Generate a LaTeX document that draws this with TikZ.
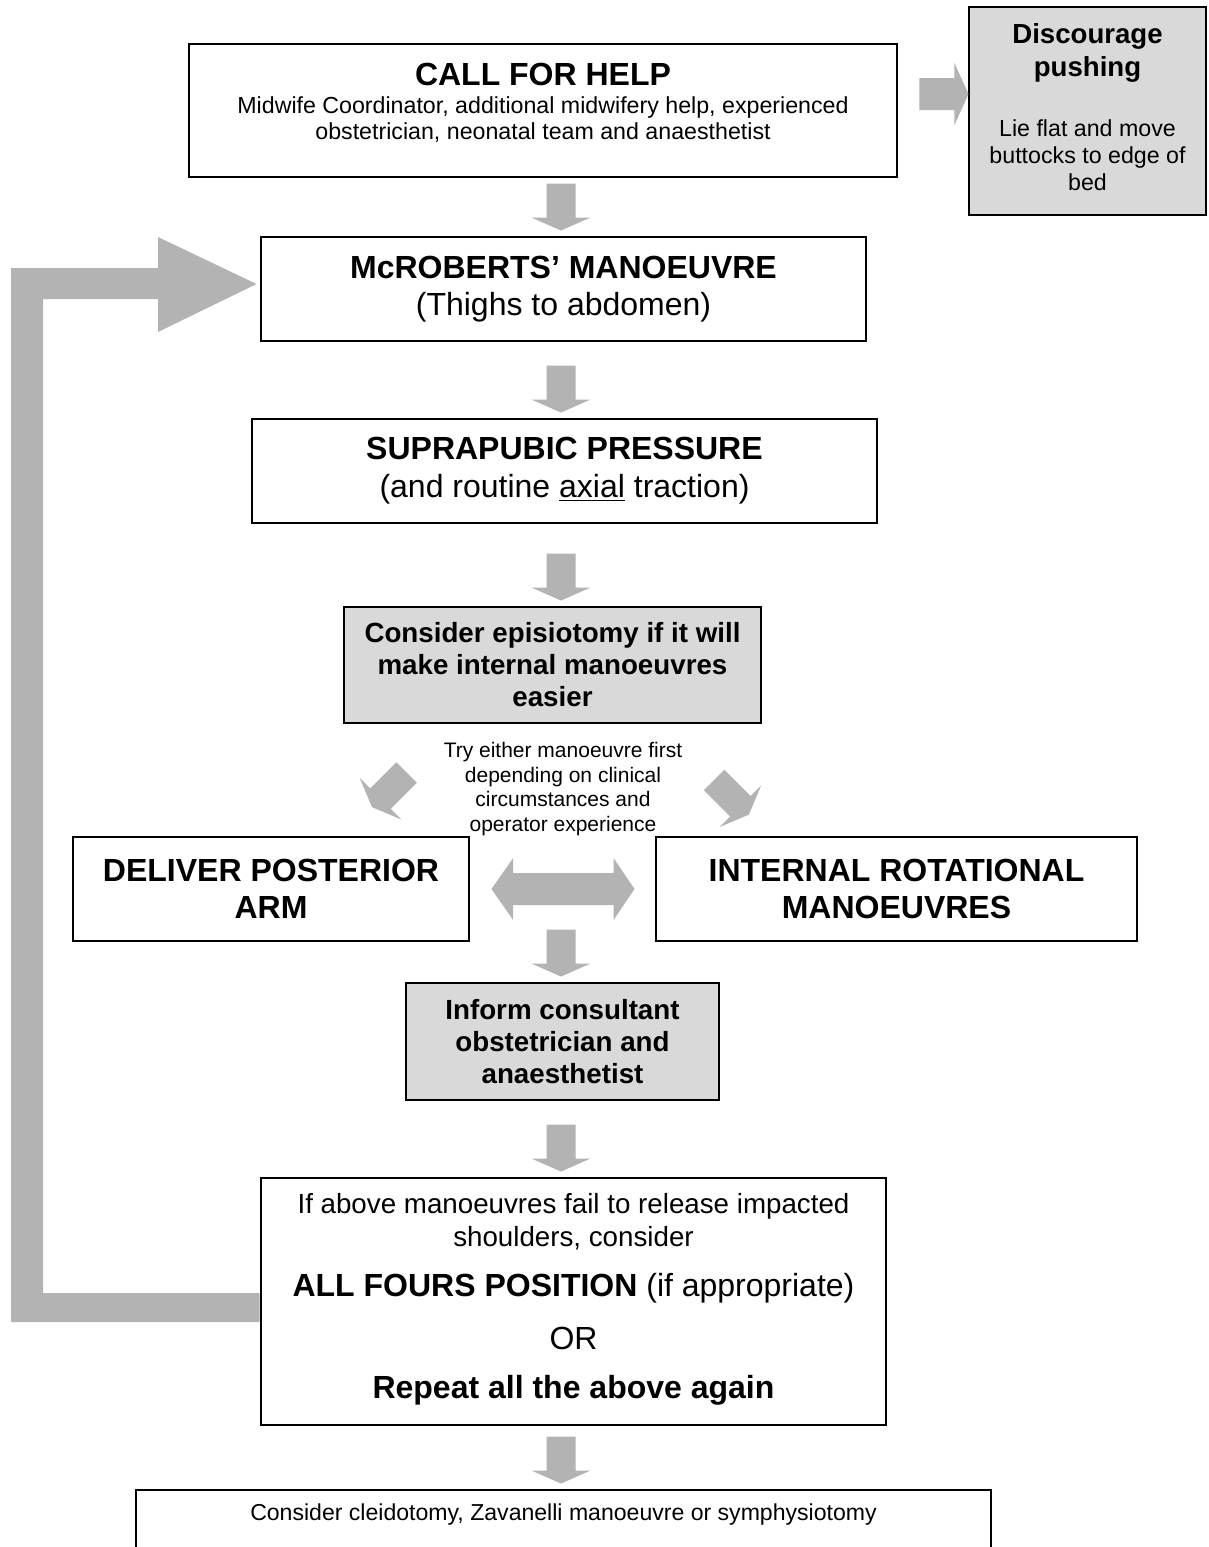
\documentclass[tikz,border=0pt]{standalone}
\usepackage{fontspec}
\setmainfont{Liberation Sans}
\usetikzlibrary{calc}
\definecolor{arrowgray}{HTML}{B3B3B3}
\definecolor{boxgray}{HTML}{D9D9D9}
\newcommand\pxu{0.75pt}
\newcommand\fs[2]{\fontsize{#1}{#2}\selectfont}
\begin{document}
\begin{tikzpicture}[x=0.75pt,y=-0.75pt,
  box/.style={draw=black, line width=2.2pt, inner sep=0pt, align=center},
  graybox/.style={box, fill=boxgray},
  txt/.style={inner sep=0pt, align=center},
  pics/barr/.style n args={4}{code={\fill[arrowgray] (-#3,0) -- (#3,0) -- (#3,#1-#2) -- (#4,#1-#2) -- (0,#1) -- (-#4,#1-#2) -- (-#3,#1-#2) -- cycle;}}
]
\useasboundingbox (0,0) rectangle (1208,1547);
\fill[white] (0,0) rectangle (1208,1547);

% boxes
\node[box, minimum width=708*\pxu, minimum height=133*\pxu] (call) at (543,110.5) {};
\node[txt, font=\fs{24}{28}\bfseries] (callt) at (543,74) {CALL FOR HELP};
\node[txt, font=\fs{17.4}{19.5}] (calls) at (543,120) {Midwife Coordinator, additional midwifery help, experienced\\obstetrician, neonatal team and anaesthetist};

\node[graybox, minimum width=237*\pxu, minimum height=208*\pxu] (disc) at (1087.5,111) {};
\node[txt, font=\fs{20.7}{24.75}\bfseries] (disct) at (1087.5,53) {Discourage\\pushing};
\node[txt, font=\fs{17.4}{20.25}] (discs) at (1087.5,155) {Lie flat and move\\buttocks to edge of\\bed};

\node[box, minimum width=605*\pxu, minimum height=104*\pxu, font=\fs{24}{28}] (mcr) at (563.5,289) {\textbf{McROBERTS’ MANOEUVRE}\\(Thighs to abdomen)};

\node[box, minimum width=625*\pxu, minimum height=104*\pxu, font=\fs{24}{28.5}] (supra) at (564.5,471) {\textbf{SUPRAPUBIC PRESSURE}\\(and routine \underline{axial} traction)};

\node[graybox, minimum width=417*\pxu, minimum height=116*\pxu, font=\fs{20.8}{24}\bfseries] (epis) at (552.5,665) {Consider episiotomy if it will\\make internal manoeuvres\\easier};

\node[txt, font=\fs{15.75}{18.4}] (note) at (563,789) {Try either manoeuvre first\\depending on clinical\\circumstances and\\operator experience};

\node[box, minimum width=396*\pxu, minimum height=104*\pxu, font=\fs{24}{28}\bfseries] (deliver) at (271,889) {DELIVER POSTERIOR\\ARM};
\node[box, minimum width=481*\pxu, minimum height=104*\pxu, font=\fs{24}{28}\bfseries] (internal) at (896.5,889) {INTERNAL ROTATIONAL\\MANOEUVRES};

\node[graybox, minimum width=313*\pxu, minimum height=117*\pxu, font=\fs{20.8}{24}\bfseries] (inform) at (562.5,1041.5) {Inform consultant\\obstetrician and\\anaesthetist};

\node[box, minimum width=625*\pxu, minimum height=247*\pxu] (bottom) at (573.5,1301.5) {};
\node[txt, font=\fs{20.8}{24.75}] (bot1) at (573.5,1222) {If above manoeuvres fail to release impacted\\shoulders, consider};
\node[txt, font=\fs{24}{28}] (bot2) at (573.5,1288) {\textbf{ALL FOURS POSITION} (if appropriate)};
\node[txt, font=\fs{24}{28}] (bot3) at (573.5,1338) {OR};
\node[txt, font=\fs{24}{28}\bfseries] (bot4) at (573.5,1390) {Repeat all the above again};

\node[box, minimum width=855*\pxu, minimum height=120*\pxu] (final) at (563.5,1550) {};
\node[txt, font=\fs{17.3}{20}] (finalt) at (563.5,1515) {Consider cleidotomy, Zavanelli manoeuvre or symphysiotomy};

% straight down block arrows
\coordinate (ax) at (561,0);
\foreach \n in {mcr,supra,epis,inform,bottom,final}
  \pic at ($(\n.north -| ax)+(0,-52)$) {barr={47}{13}{14.5}{29.5}};

% right arrow to discourage box
\pic[rotate=90] at ($(call.east)+(21,-16.5)$) {barr={49}{14}{16}{31}};

% diagonal arrows
\pic[rotate=-45] at (406.7,772.5) {barr={49}{12}{14.5}{29.5}};
\pic[rotate=45] at (714.2,780) {barr={49}{12}{14.5}{29.5}};

% double arrow
\fill[arrowgray] ($(deliver.east)+(21,0)$) -- ++(21.7,-31) -- ++(0,15)
  -- ($(internal.west)+(-41,-16)$) -- ++(0,-15) -- ($(internal.west)+(-20,0)$)
  -- ++(-21,31) -- ++(0,-15) -- ($(deliver.east)+(42.7,16)$) -- ++(0,15) -- cycle;

% loop arrow back to McRoberts
\fill[arrowgray] ($(bottom.west)+(0,-8.5)$) -- (43,1293) -- (43,299) -- (158,299)
  -- (158,332) -- ($(mcr.west)+(-3,-5)$) -- (158,237) -- (158,268) -- (11,268)
  -- (11,1322) -- ($(bottom.west)+(0,20.5)$) -- cycle;
\end{tikzpicture}
\end{document}
